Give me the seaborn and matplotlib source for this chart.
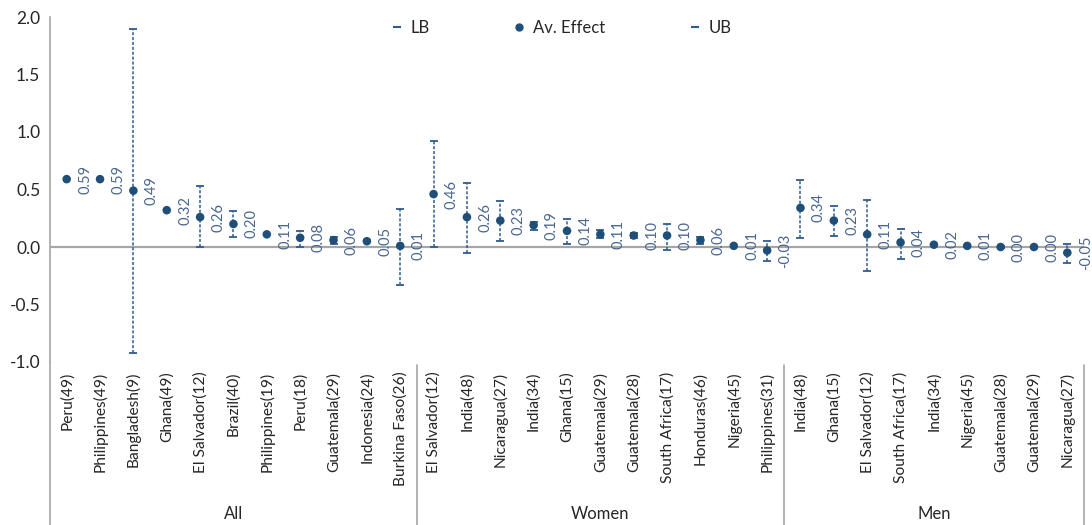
import numpy as np
import pandas as pd
import matplotlib
matplotlib.use("Agg")
import matplotlib.pyplot as plt
from matplotlib.lines import Line2D
import seaborn as sns

# chart data
labels = ["Peru(49)", "Philippines(49)", "Bangladesh(9)", "Ghana(49)", "El Salvador(12)", "Brazil(40)",
          "Philippines(19)", "Peru(18)", "Guatemala(29)", "Indonesia(24)", "Burkina Faso(26)",
          "El Salvador(12)", "India(48)", "Nicaragua(27)", "India(34)", "Ghana(15)", "Guatemala(29)",
          "Guatemala(28)", "South Africa(17)", "Honduras(46)", "Nigeria(45)", "Philippines(31)",
          "India(48)", "Ghana(15)", "El Salvador(12)", "South Africa(17)", "India(34)", "Nigeria(45)",
          "Guatemala(28)", "Guatemala(29)", "Nicaragua(27)"]
groups = ["All"] * 11 + ["Women"] * 11 + ["Men"] * 9
av_effect = [0.59, 0.59, 0.49, 0.32, 0.26, 0.20, 0.11, 0.08, 0.06, 0.05, 0.01,
             0.46, 0.26, 0.23, 0.19, 0.14, 0.11, 0.10, 0.10, 0.06, 0.01, -0.03,
             0.34, 0.23, 0.11, 0.04, 0.02, 0.01, 0.00, 0.00, -0.05]
lb = [np.nan, np.nan, -0.92, np.nan, 0.00, 0.09, np.nan, 0.00, 0.03, 0.04, -0.33,
      0.00, -0.05, 0.05, 0.15, 0.03, 0.08, 0.08, -0.03, 0.03, np.nan, -0.12,
      0.08, 0.10, -0.21, -0.10, np.nan, 0.00, -0.01, -0.01, -0.14]
ub = [np.nan, np.nan, 1.90, np.nan, 0.53, 0.31, np.nan, 0.14, 0.09, 0.06, 0.33,
      0.92, 0.56, 0.40, 0.22, 0.24, 0.15, 0.12, 0.20, 0.09, np.nan, 0.05,
      0.58, 0.36, 0.41, 0.16, np.nan, 0.02, 0.01, 0.01, 0.03]

df = pd.DataFrame({"label": labels, "group": groups, "effect": av_effect, "lb": lb, "ub": ub})
df["pos"] = np.arange(len(df))

sns.set_style("white")
plt.rcParams["font.family"] = ["Lato", "DejaVu Sans"]

navy = "#1F4E79"
bar_col = "#2F5C8F"
lab_col = "#4A6690"
grey = "#A6A6A6"

fig = plt.figure(figsize=(10.92, 5.25), dpi=100)
ax = fig.add_axes([50 / 1092, 1 - 362 / 525, (1084 - 50) / 1092, 345 / 525])

# error bars (dashed, with caps)
eb = df.dropna(subset=["lb"])
ax.vlines(eb["pos"], eb["lb"], eb["ub"], colors=bar_col, linestyles=(0, (2, 1.2)), linewidth=1.1, zorder=2)
ax.scatter(eb["pos"], eb["lb"], marker="_", s=30, color=bar_col, linewidths=1.3, zorder=2)
ax.scatter(eb["pos"], eb["ub"], marker="_", s=30, color=bar_col, linewidths=1.3, zorder=2)

sns.scatterplot(data=df, x="pos", y="effect", ax=ax, color=navy, s=38, edgecolor="none", legend=False, zorder=3)

# data labels to the right of each point
for p, v in zip(df["pos"], df["effect"]):
    ax.text(p + 0.55, v, f"{v:.2f}", rotation=90, ha="center", va="center", fontsize=10.5, color=lab_col)

ax.axhline(0, color=grey, lw=1.6, zorder=1)
ax.set_xlim(-0.5, len(df) - 0.5)
ax.set_ylim(-1.0, 2.0)
ax.set_yticks([-1.0, -0.5, 0.0, 0.5, 1.0, 1.5, 2.0])
ax.set_yticklabels([f"{t:.1f}" for t in [-1.0, -0.5, 0.0, 0.5, 1.0, 1.5, 2.0]], fontsize=12.5, color="#262626")
ax.tick_params(axis="y", length=5, color=grey, direction="out", width=1, pad=2)
ax.set_xticks(df["pos"])
ax.set_xticklabels(df["label"], rotation=90, fontsize=11.2, color="#262626", va="top")
ax.tick_params(axis="x", length=0, pad=7)
ax.set_xlabel("")
ax.set_ylabel("")
for s in ["top", "right", "bottom"]:
    ax.spines[s].set_visible(False)
ax.spines["left"].set_color(grey)
ax.spines["left"].set_linewidth(1.2)

# category axis: left line extension, separators and group names
trans = ax.get_xaxis_transform()
ax.plot([-0.5, -0.5], [0, -0.475], color=grey, lw=1.2, transform=trans, clip_on=False)
for xs in [10.5, 21.5, 30.5]:
    ax.plot([xs, xs], [-0.01, -0.475], color=grey, lw=1.2, transform=trans, clip_on=False)
for g in ["All", "Women", "Men"]:
    gp = df.loc[df["group"] == g, "pos"]
    ax.text((gp.min() + gp.max()) / 2, -0.44, g, transform=trans, ha="center", va="center",
            fontsize=12, color="#262626")

handles = [Line2D([], [], marker="_", color=bar_col, linestyle="none", markersize=6, markeredgewidth=1.5),
           Line2D([], [], marker="o", color=navy, linestyle="none", markersize=5),
           Line2D([], [], marker="_", color=bar_col, linestyle="none", markersize=6, markeredgewidth=1.5)]
fig.legend(handles, ["LB", "Av. Effect", "UB"], loc="center", bbox_to_anchor=(0.514, 1 - 28 / 525), ncol=3,
           frameon=False, fontsize=12, handlelength=0.7, handletextpad=0.5, columnspacing=5.0)

fig.savefig("out.png", dpi=100)
